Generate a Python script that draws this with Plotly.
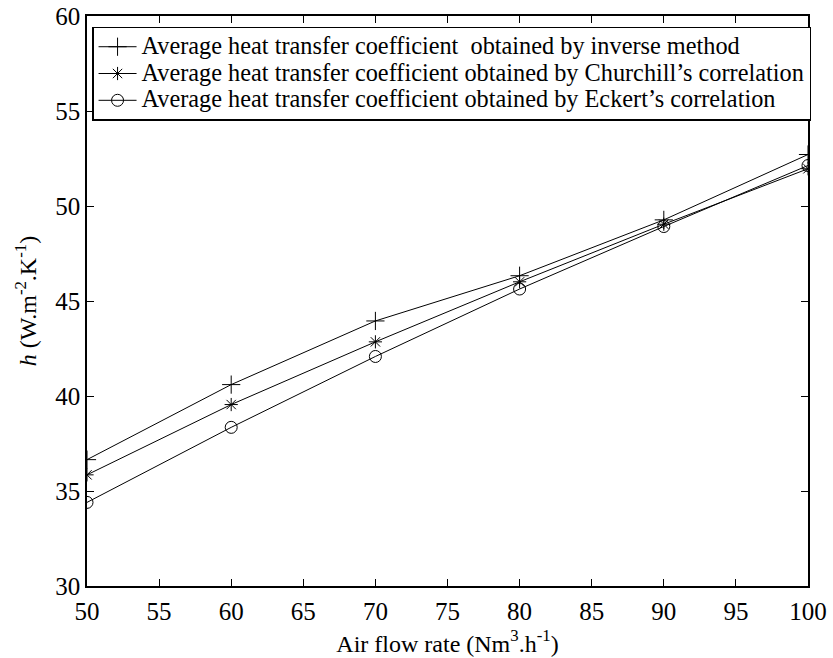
import plotly.graph_objects as go

flow = [50, 60, 70, 80, 90, 100]
h_inverse = [36.65, 40.6, 43.95, 46.33, 49.27, 52.71]
h_churchill = [35.85, 39.55, 42.85, 46.01, 49.04, 51.96]
h_eckert = [34.4, 38.35, 42.08, 45.63, 48.92, 52.13]

names = [
    "Average heat transfer coefficient&nbsp; obtained by inverse method",
    "Average heat transfer coefficient obtained by Churchill\u2019s correlation",
    "Average heat transfer coefficient obtained by Eckert\u2019s correlation",
]

FONT = "Liberation Serif, Times New Roman, serif"

fig = go.Figure()
series = [
    (h_inverse, "cross-thin-open", 13),
    (h_churchill, "asterisk-open", 11),
    (h_eckert, "circle-open", 12),
]
for (vals, sym, sz), nm in zip(series, names):
    fig.add_trace(go.Scatter(
        x=flow, y=vals,
        name='<span style="font-size:24.3px">' + nm + '</span>',
        mode="lines+markers",
        line=dict(color="black", width=1),
        marker=dict(symbol=sym, size=sz, color="black",
                    line=dict(color="black", width=1)),
    ))

axis_common = dict(
    showline=True, linecolor="black", linewidth=1.5, mirror="ticks",
    ticks="inside", ticklen=7, tickcolor="black", tickwidth=1,
    showgrid=False, zeroline=False, automargin=False,
    tickfont=dict(family=FONT, size=25, color="black"),
)

fig.update_layout(
    width=833, height=658,
    margin=dict(l=87, r=25, t=16, b=72),
    paper_bgcolor="white", plot_bgcolor="white",
    font=dict(family=FONT, color="black"),
    xaxis=dict(range=[50, 100], dtick=5, **axis_common,
               ticklabelstandoff=2,
               title=dict(text="Air flow rate (Nm<sup>3</sup>.h<sup>-1</sup>)",
                          font=dict(family=FONT, size=24), standoff=11)),
    yaxis=dict(range=[30, 60], dtick=5, **axis_common,
               title=dict(text="<i>h</i> (W.m<sup>-2</sup>.K<sup>-1</sup>)",
                          font=dict(family=FONT, size=24), standoff=12)),
    legend=dict(x=0.007, y=0.981, xanchor="left", yanchor="top",
                bgcolor="white", bordercolor="black", borderwidth=1.5,
                font=dict(family=FONT, size=18.3, color="black"),
                tracegroupgap=0, itemwidth=38),
    showlegend=True,
)

# remove the default 8px page margin so the figure sits at the window's corner
fig.write_html("out.html", config={"displayModeBar": False},
               post_script="document.body.style.margin='0';")
